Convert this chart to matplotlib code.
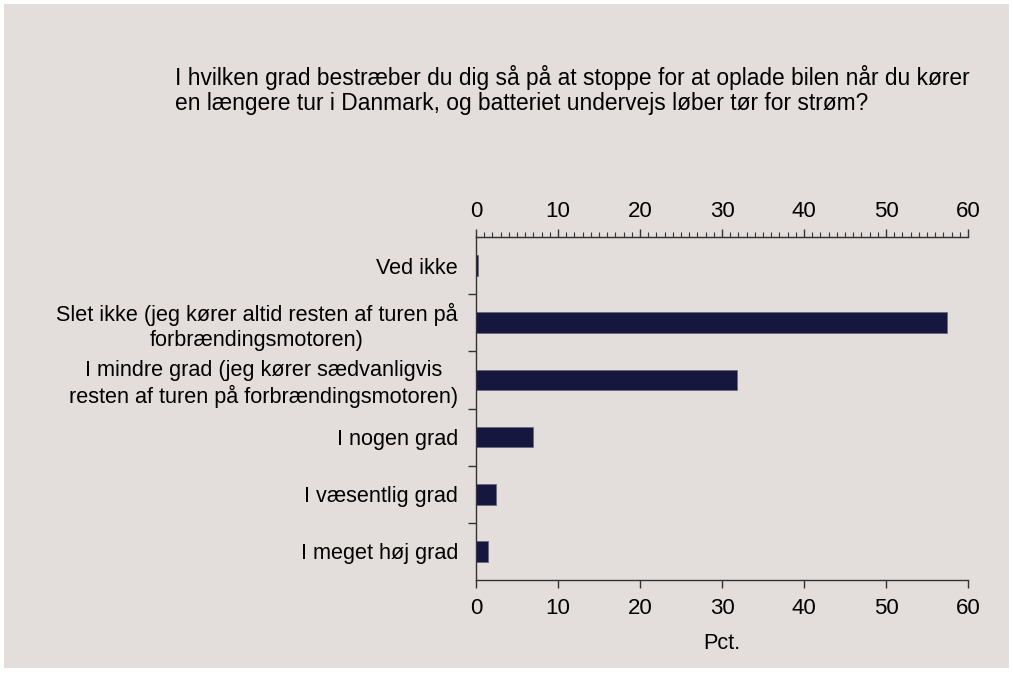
import matplotlib.pyplot as plt
from matplotlib.patches import Rectangle
from matplotlib.ticker import FixedLocator

plt.rcParams['font.family'] = ['Liberation Sans', 'DejaVu Sans']

# Data
categories = ['Ved ikke',
              'Slet ikke (jeg kører altid resten af turen på\nforbrændingsmotoren)',
              'I mindre grad (jeg kører sædvanligvis\nresten af turen på forbrændingsmotoren)',
              'I nogen grad',
              'I væsentlig grad',
              'I meget høj grad']
values = [0.2, 57.4, 31.8, 6.9, 2.4, 1.5]
x_ticks = [0, 10, 20, 30, 40, 50, 60]
title = ('I hvilken grad bestræber du dig så på at stoppe for at oplade bilen når du kører\n'
         'en længere tur i Danmark, og batteriet undervejs løber tør for strøm?')

bg = '#e3dddb'
bar_color = '#16173f'
spine_color = '#333333'
fs = 15.6

W, H = 1013, 674
fig = plt.figure(figsize=(W / 100, H / 100), dpi=100)
fig.patch.set_facecolor('white')
fig.patches.append(Rectangle((4 / W, 6 / H), 1005 / W, 664 / H, transform=fig.transFigure,
                             facecolor=bg, edgecolor='none', zorder=-10))

ax = fig.add_axes([476 / W, 1 - 580 / H, (968 - 476) / W, (580 - 237) / H])
ax.set_facecolor('none')

pos = list(range(len(categories)))
ax.barh(pos, values, height=0.36, color=bar_color, edgecolor='#6a6a80', linewidth=0.6)

ax.set_xlim(0, 60)
ax.set_ylim(len(categories) - 0.5, -0.5)

# bottom x axis
ax.xaxis.set_major_locator(FixedLocator(x_ticks))
ax.tick_params(axis='x', which='major', direction='out', length=6, width=1,
               color=spine_color, labelsize=16, pad=7)
ax.set_xlabel('Pct.', fontsize=fs, labelpad=10)

# top x axis with minor ticks every 1
top = ax.secondary_xaxis('top')
top.xaxis.set_major_locator(FixedLocator(x_ticks))
top.xaxis.set_minor_locator(FixedLocator(range(0, 61)))
top.tick_params(axis='x', which='major', direction='out', length=6, width=1,
                color=spine_color, labelsize=16, pad=5)
top.tick_params(axis='x', which='minor', direction='out', length=3.5, width=0.8,
                color=spine_color)
top.spines['top'].set_color(spine_color)

# y axis: ticks at category borders, labels at centres
ax.yaxis.set_major_locator(FixedLocator([p + 0.5 for p in pos[:-1]]))
ax.yaxis.set_major_formatter(plt.NullFormatter())
ax.set_yticks(pos, categories, minor=True)
ax.tick_params(axis='y', which='major', direction='out', length=6, width=1, color=spine_color)
ax.tick_params(axis='y', which='minor', length=0, labelsize=fs, pad=13)
for lab in ax.get_yticklabels(minor=True):
    lab.set_multialignment('center')

for side in ['top', 'bottom', 'left']:
    ax.spines[side].set_color(spine_color)
    ax.spines[side].set_linewidth(1)
ax.spines['right'].set_visible(False)

fig.text(175 / W, 1 - 110 / H, title, fontsize=16.4, ha='left', va='baseline', linespacing=1.12)

fig.savefig('out.png', dpi=100, facecolor=fig.get_facecolor())
